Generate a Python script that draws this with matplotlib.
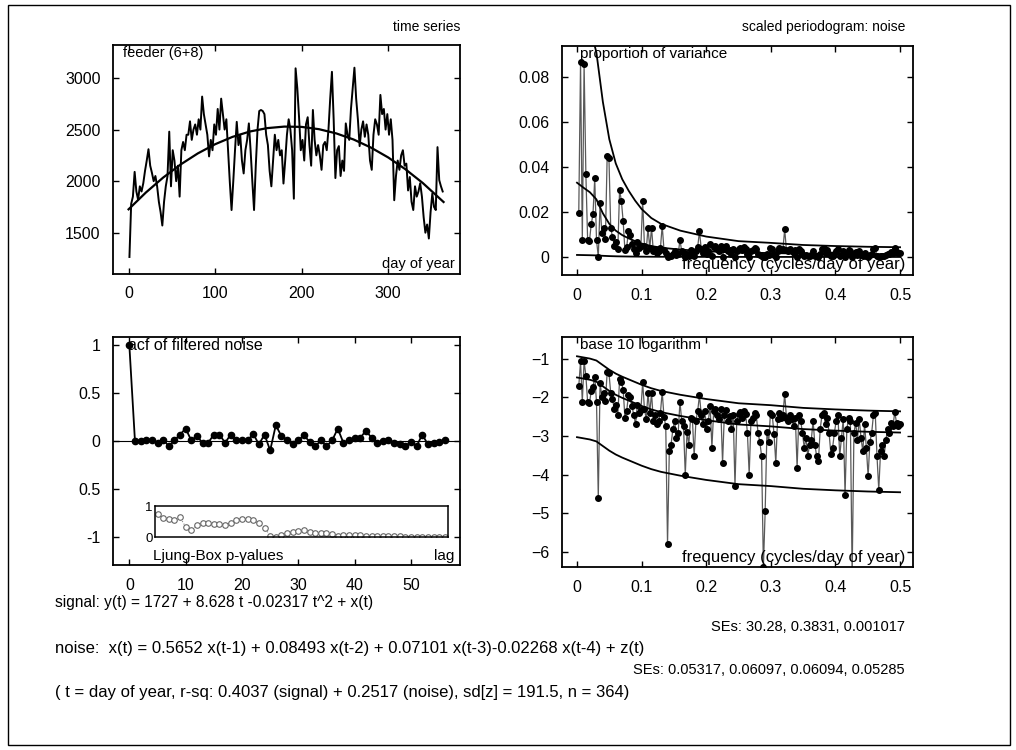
import numpy as np
import matplotlib.pyplot as plt
from matplotlib.patches import Rectangle

plt.rcParams['font.family'] = ['Liberation Sans', 'DejaVu Sans']
plt.rcParams['font.size'] = 11.5

# --- time series (every second day) ---
ts_days = np.arange(1, 365, 2)
ts_vals = [
    1265, 1780, 1850, 2090, 1900, 1820, 1950, 1900, 1980, 2100,
    2200, 2310, 2150, 2080, 2000, 2050, 1950, 1800, 1700, 1570,
    1800, 1950, 2050, 2480, 1950, 2300, 2200, 2000, 2150, 1850,
    2300, 2380, 2300, 2450, 2450, 2580, 2400, 2500, 2550, 2450,
    2600, 2500, 2820, 2650, 2550, 2450, 2240, 2400, 2300, 2550,
    2450, 2700, 2500, 2800, 2650, 2500, 2600, 2300, 1990, 1720,
    2000, 2300, 2575, 2350, 2450, 2200, 2075, 2300, 2400, 2560,
    2300, 2000, 1720, 2150, 2500, 2680, 2690, 2680, 2650, 2450,
    2350, 2100, 1950, 2200, 2450, 2300, 2400, 2250, 2300, 1977,
    2200, 2450, 2600, 2500, 2300, 1830, 3094, 2900, 2620, 2300,
    2400, 2200, 2550, 2620, 2350, 2150, 2690, 2400, 2250, 2350,
    2250, 2110, 2350, 2380, 2300, 2500, 2800, 3060, 2600, 2030,
    2300, 2340, 2050, 2200, 2100, 2560, 2450, 2400, 2700, 2900,
    3100, 2800, 2600, 2340, 2500, 2580, 2430, 2550, 2450, 2200,
    2110, 2450, 2600, 2550, 2450, 2836, 2650, 2700, 2500, 2650,
    2450, 2600, 2400, 1815, 2050, 2200, 2110, 2250, 2300, 2150,
    2170, 1910, 2040, 1800, 1720, 1950, 1850, 1900, 1980, 1850,
    1650, 1500, 1580, 1444, 1700, 1880, 1750, 1720, 2330, 2010,
    1950, 1900,
]
trend_days = [0, 20, 40, 60, 80, 100, 120, 140, 160, 180, 200, 220, 240, 260, 280, 300, 320, 340, 364]
trend_vals = [1727, 1890, 2035, 2161, 2269, 2358, 2429, 2481, 2514, 2529, 2526, 2504, 2463, 2404, 2326, 2230, 2115, 1982, 1798]

# --- scaled periodogram of the noise (proportion of variance, k/364) ---
pg_freq = np.arange(1, 183) / 364
pg_vals = [
    0.0195, 0.087, 0.0078, 0.086, 0.037, 0.0075, 0.007, 0.0145, 0.019, 0.035,
    0.0075, 2.5e-5, 0.024, 0.0105, 0.013, 0.008, 0.045, 0.044, 0.013, 0.009,
    0.005, 0.0065, 0.0035, 0.030, 0.025, 0.016, 0.003, 0.0045, 0.0115, 0.010,
    0.006, 0.0035, 0.002, 0.0065, 0.004, 0.0048, 0.025, 0.005, 0.0028, 0.013,
    0.004, 0.013, 0.0025, 0.0035, 0.002, 0.0025, 0.004, 0.014, 0.0032, 0.0018,
    1.6e-6, 0.0004, 0.0006, 0.0015, 0.0025, 0.0009, 0.0012, 0.0077, 0.0025, 0.0018,
    0.0001, 0.0013, 0.0006, 0.003, 0.0028, 0.0003, 0.0025, 0.0045, 0.0115, 0.0035,
    0.002, 0.0045, 0.0015, 0.0025, 0.006, 0.0005, 0.0045, 0.005, 0.0035, 0.0028,
    0.005, 0.0002, 0.0035, 0.0048, 0.0025, 0.0033, 0.0015, 0.0036, 5e-5, 0.0025,
    0.0038, 0.0042, 0.003, 0.0045, 0.0038, 0.0012, 0.0001, 0.0025, 0.003, 0.004,
    0.0035, 0.0012, 0.0007, 0.0003, 4e-7, 1.1e-5, 0.0013, 0.0007, 0.004, 0.0035,
    0.0011, 0.0002, 0.0028, 0.004, 0.003, 0.0035, 0.0123, 0.003, 0.0025, 0.0035,
    0.0028, 0.0018, 0.003, 0.00015, 0.0035, 0.0025, 0.0012, 0.0005, 0.0009, 0.0003,
    0.0006, 0.0008, 0.0025, 0.0006, 0.0003, 0.00022, 0.0015, 0.0035, 0.004, 0.002,
    0.003, 0.0012, 0.00035, 0.0005, 0.0012, 0.0025, 0.0035, 0.0003, 0.0009, 0.0028,
    3e-5, 0.0015, 0.003, 0.0025, 2.5e-7, 0.0012, 0.0022, 0.0008, 0.0028, 0.0009,
    0.0004, 0.002, 0.0005, 9e-5, 0.0007, 0.0012, 0.0035, 0.004, 0.0003, 4e-5,
    0.0004, 0.0006, 0.0003, 0.0008, 0.0015, 0.0012, 0.0022, 0.0018, 0.0042, 0.0022,
    0.0018, 0.002,
]
# envelope curves (log10)
env_freq = [0, 0.01, 0.02, 0.03, 0.04, 0.05, 0.06, 0.07, 0.08, 0.09, 0.1, 0.115, 0.13, 0.16,
            0.2, 0.25, 0.3, 0.35, 0.4, 0.45, 0.5]
env_upper = [-0.93, -0.96, -0.99, -1.04, -1.16, -1.28, -1.38, -1.46, -1.53, -1.6, -1.67, -1.76,
             -1.83, -1.93, -2.04, -2.15, -2.2, -2.27, -2.31, -2.34, -2.36]
env_mid = [-1.48, -1.51, -1.54, -1.59, -1.71, -1.83, -1.93, -2.01, -2.08, -2.15, -2.22, -2.31,
           -2.38, -2.48, -2.59, -2.7, -2.75, -2.82, -2.86, -2.89, -2.91]
env_lower = [-3.03, -3.06, -3.09, -3.14, -3.26, -3.38, -3.48, -3.56, -3.63, -3.7, -3.77, -3.86,
             -3.93, -4.03, -4.14, -4.25, -4.3, -4.37, -4.41, -4.44, -4.46]

# --- acf of filtered noise + Ljung-Box p-values ---
acf_lags = np.arange(0, 57)
acf_vals = [
    1.0, 0.0, 0.0, 0.007, 0.017, -0.017, 0.017, -0.052, 0.007, 0.069,
    0.131, 0.007, 0.052, -0.017, -0.017, 0.069, 0.069, -0.017, 0.069, 0.007,
    0.007, 0.007, 0.076, -0.034, 0.069, -0.097, 0.166, 0.052, 0.017, -0.034,
    0.007, 0.062, -0.007, -0.052, 0.007, -0.052, 0.007, 0.131, -0.017, 0.007,
    0.034, 0.034, 0.110, 0.034, -0.017, 0.0, 0.017, -0.017, -0.034, -0.052,
    -0.007, -0.052, 0.069, -0.034, -0.017, -0.007, 0.007,
]
lb_lags = np.arange(5, 57)
lb_pvals = [
    0.76, 0.62, 0.58, 0.55, 0.65, 0.33, 0.22, 0.40, 0.45, 0.45,
    0.43, 0.42, 0.40, 0.47, 0.55, 0.60, 0.58, 0.55, 0.45, 0.30,
    0.05, 0.02, 0.08, 0.12, 0.18, 0.20, 0.22, 0.18, 0.15, 0.15,
    0.12, 0.10, 0.05, 0.06, 0.07, 0.07, 0.06, 0.03, 0.04, 0.05,
    0.05, 0.04, 0.03, 0.03, 0.02, 0.02, 0.02, 0.01, 0.01, 0.02,
    0.02, 0.02,
]

W, H = 1016, 750
fig = plt.figure(figsize=(W / 100, H / 100), dpi=100)


def box(l, t, r, b):
    return [l / W, 1 - b / H, (r - l) / W, (b - t) / H]


def style(ax):
    ax.tick_params(direction='in', top=True, right=True, length=4, width=1, pad=9, labelsize=11.5)
    for s in ax.spines.values():
        s.set_linewidth(1.3)


def corner(ax, x, y, s, ha, va, size=11.5):
    ax.text(x, y, s, transform=ax.transAxes, ha=ha, va=va, fontsize=size)


# time series
ax1 = fig.add_axes(box(113, 45, 460, 274))
ax1.plot(ts_days, ts_vals, color='k', lw=1.4)
ax1.plot(trend_days, trend_vals, color='k', lw=1.6)
ax1.set_xlim(-18, 383)
ax1.set_ylim(1100, 3320)
ax1.set_xticks([0, 100, 200, 300])
ax1.set_yticks([1500, 2000, 2500, 3000])
style(ax1)
corner(ax1, 0.03, 0.995, 'feeder (6+8)', 'left', 'top', 10.5)
corner(ax1, 0.985, 0.015, 'day of year', 'right', 'bottom', 10.5)
fig.text(460 / W, 1 - 27 / H, 'time series', ha='right', va='center', fontsize=10)

# periodogram (linear)
ax2 = fig.add_axes(box(562, 46, 913, 275))
ax2.plot(pg_freq, pg_vals, color='0.35', lw=0.9, marker='o', ms=4, mfc='k', mec='k')
ax2.plot(env_freq, 10 ** np.array(env_upper), color='k', lw=1.3)
ax2.plot(env_freq, 10 ** np.array(env_mid), color='k', lw=1.3)
ax2.plot(env_freq, 10 ** np.array(env_lower), color='k', lw=1.3)
ax2.set_xlim(-0.0232, 0.520)
ax2.set_ylim(-0.008, 0.094)
ax2.set_xticks([0, 0.1, 0.2, 0.3, 0.4, 0.5])
ax2.set_xticklabels(['0', '0.1', '0.2', '0.3', '0.4', '0.5'])
ax2.set_yticks([0, 0.02, 0.04, 0.06, 0.08])
ax2.set_yticklabels(['0', '0.02', '0.04', '0.06', '0.08'])
style(ax2)
corner(ax2, 0.05, 0.995, 'proportion of variance', 'left', 'top', 11)
corner(ax2, 0.977, 0.015, 'frequency (cycles/day of year)', 'right', 'bottom', 12)
fig.text(905 / W, 1 - 27 / H, 'scaled periodogram: noise', ha='right', va='center', fontsize=10)

# acf
ax3 = fig.add_axes(box(113, 337, 460, 565))
ax3.axhline(0, color='k', lw=0.8)
ax3.plot(acf_lags, acf_vals, color='k', lw=1.3, marker='o', ms=4.5)
ax3.set_xlim(-2.9, 58.7)
ax3.set_ylim(-1.29, 1.085)
ax3.set_xticks([0, 10, 20, 30, 40, 50])
ax3.set_yticks([-1, -0.5, 0, 0.5, 1])
ax3.set_yticklabels(['-1', '0.5', '0', '0.5', '1'])
style(ax3)
corner(ax3, 0.043, 0.995, 'acf of filtered noise', 'left', 'top')
corner(ax3, 0.115, 0.01, 'Ljung-Box p-values', 'left', 'bottom', 11)
corner(ax3, 0.985, 0.01, 'lag', 'right', 'bottom', 11)

ins = ax3.inset_axes([4.6, -1.0, 52, 0.32], transform=ax3.transData)
ins.plot(lb_lags, lb_pvals, color='0.55', lw=0.8, ls=':', marker='o', ms=4,
         mfc='white', mec='0.4', mew=0.8)
ins.set_xlim(4.6, 56.6)
ins.set_ylim(0, 1)
ins.set_xticks([])
ins.set_yticks([0, 1])
ins.tick_params(length=0, pad=2, labelsize=9.5)
for s in ins.spines.values():
    s.set_linewidth(1.1)

# periodogram (log10)
ax4 = fig.add_axes(box(562, 337, 913, 567))
ax4.plot(pg_freq, np.log10(pg_vals), color='0.35', lw=0.9, marker='o', ms=4, mfc='k', mec='k')
ax4.plot(env_freq, env_upper, color='k', lw=1.3)
ax4.plot(env_freq, env_mid, color='k', lw=1.3)
ax4.plot(env_freq, env_lower, color='k', lw=1.3)
ax4.set_xlim(-0.0232, 0.520)
ax4.set_ylim(-6.4, -0.43)
ax4.set_xticks([0, 0.1, 0.2, 0.3, 0.4, 0.5])
ax4.set_xticklabels(['0', '0.1', '0.2', '0.3', '0.4', '0.5'])
ax4.set_yticks([-6, -5, -4, -3, -2, -1])
style(ax4)
corner(ax4, 0.05, 0.995, 'base 10 logarithm', 'left', 'top', 11)
corner(ax4, 0.977, 0.01, 'frequency (cycles/day of year)', 'right', 'bottom', 12)

# fitted model text
fig.text(55 / W, 1 - 603 / H, 'signal: y(t) = 1727 + 8.628 t -0.02317 t^2 + x(t)',
         va='center', fontsize=11.2)
fig.text(905 / W, 1 - 627 / H, 'SEs: 30.28, 0.3831, 0.001017', ha='right', va='center', fontsize=10.5)
fig.text(55 / W, 1 - 648 / H,
         'noise:  x(t) = 0.5652 x(t-1) + 0.08493 x(t-2) + 0.07101 x(t-3)-0.02268 x(t-4) + z(t)',
         va='center', fontsize=12)
fig.text(905 / W, 1 - 670 / H, 'SEs: 0.05317, 0.06097, 0.06094, 0.05285', ha='right', va='center',
         fontsize=10.5)
fig.text(55 / W, 1 - 693 / H,
         '( t = day of year, r-sq: 0.4037 (signal) + 0.2517 (noise), sd[z] = 191.5, n = 364)',
         va='center', fontsize=12)

fig.add_artist(Rectangle((8 / W, 5 / H), 1002 / W, 740 / H, transform=fig.transFigure,
                         fill=False, lw=1, ec='k'))

fig.savefig('out.png', dpi=100)
